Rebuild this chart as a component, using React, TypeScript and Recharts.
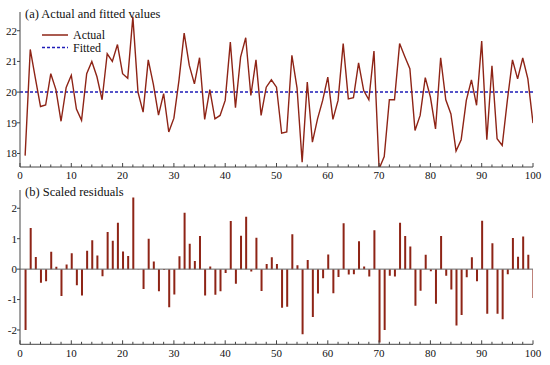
import React from 'react';
import { LineChart, Line, BarChart, Bar, XAxis, YAxis, ReferenceLine, Legend } from 'recharts';

// observation numbers 1..100
const OBS = Array.from({ length: 100 }, (_, i) => i + 1);

const ACTUAL = [
  17.93, 21.39, 20.45, 19.53, 19.58, 20.6, 20.08, 19.05, 20.15, 20.55,
  19.45, 19.08, 20.6, 21.0, 20.5, 19.75, 21.25, 21.0, 21.55, 20.6,
  20.45, 22.45, 20.0, 19.35, 21.05, 20.25, 19.25, 19.95, 18.7, 19.15,
  20.4, 21.92, 20.87, 20.27, 21.12, 19.11, 20.08, 19.13, 19.24, 19.73,
  21.63, 19.49, 21.14, 21.77, 19.89, 21.05, 19.24, 20.16, 20.4, 20.16,
  18.66, 18.7, 21.2, 20.14, 17.72, 20.33, 18.37, 19.13, 19.73, 20.49,
  19.11, 19.73, 21.58, 19.78, 19.82, 20.95, 20.05, 19.75, 21.34, 17.5,
  17.9, 19.75, 19.75, 21.58, 21.16, 20.76, 18.75, 19.24, 20.47, 19.84,
  18.8, 21.12, 19.75, 19.29, 18.08, 18.45, 19.73, 20.4, 19.57, 21.66,
  18.45, 20.86, 18.48, 18.26, 19.73, 21.05, 20.43, 21.11, 20.43, 18.99,
];

const RESIDUALS = [
  -2.0, 1.35, 0.4, -0.45, -0.4, 0.57, 0.08, -0.88, 0.15, 0.52,
  -0.53, -0.87, 0.6, 0.95, 0.45, -0.23, 1.22, 0.93, 1.52, 0.58,
  0.43, 2.35, -0.01, -0.65, 1.0, 0.25, -0.73, -0.03, -1.25, -0.83,
  0.42, 1.85, 0.83, 0.27, 1.09, -0.87, 0.09, -0.84, -0.73, -0.13,
  1.58, -0.48, 1.1, 1.72, -0.08, 1.03, -0.72, 0.17, 0.39, 0.17,
  -1.27, -1.24, 1.15, 0.13, -2.14, 0.3, -1.57, -0.8, -0.3, 0.48,
  -0.79, -0.26, 1.51, -0.18, -0.17, 0.92, 0.09, -0.24, 1.28, -2.41,
  -2.0, -0.22, -0.24, 1.52, 1.09, 0.74, -1.2, -0.71, 0.47, -0.07,
  -1.14, 1.09, -0.22, -0.67, -1.85, -1.51, -0.27, 0.39, -0.4, 1.59,
  -1.47, 0.85, -1.47, -1.65, -0.17, 1.02, 0.41, 1.07, 0.47, -0.95,
];

const FITTED = 20;

const X_TICKS = [
  0, 2, 4, 6, 8, 10, 12, 14, 16, 18, 20, 22, 24, 26, 28, 30, 32, 34, 36, 38, 40,
  42, 44, 46, 48, 50, 52, 54, 56, 58, 60, 62, 64, 66, 68, 70, 72, 74, 76, 78, 80,
  82, 84, 86, 88, 90, 92, 94, 96, 98, 100,
];
const TOP_Y_TICKS = [18, 19, 20, 21, 22];
const BOTTOM_Y_TICKS = [-2, -1, 0, 1, 2];

const ACTUAL_COLOR = '#8e2416';
const FITTED_COLOR = '#1f1cb8';
const AXIS_COLOR = '#444';
const FONT = '"Liberation Serif", "DejaVu Serif", serif';

const rows = OBS.map((x, i) => ({ x, actual: ACTUAL[i], resid: RESIDUALS[i] }));

// x ticks point inward, labels only on every 10
const XTick = (props: any) => {
  const { x, y, payload } = props;
  const major = payload.value % 10 === 0;
  return (
    <g>
      <line x1={x} x2={x} y1={y} y2={y - (major ? 4 : 2.5)} stroke={AXIS_COLOR} strokeWidth={1} />
      {major && (
        <text x={x} y={y + 12.3} textAnchor="middle" fontSize={11} fontFamily={FONT} fill="#111">
          {payload.value}
        </text>
      )}
    </g>
  );
};

const LegendBox = () => (
  <svg width={80} height={28} style={{ display: 'block' }}>
    <line x1={2} x2={28} y1={7} y2={7} stroke={ACTUAL_COLOR} strokeWidth={1.5} />
    <text x={33} y={11} fontSize={12} fontFamily={FONT} fill="#111">Actual</text>
    <line x1={2} x2={28} y1={19.5} y2={19.5} stroke={FITTED_COLOR} strokeWidth={1.5} strokeDasharray="3 2" />
    <text x={33} y={23.5} fontSize={12} fontFamily={FONT} fill="#111">Fitted</text>
  </svg>
);

const titleStyle: React.CSSProperties = {
  position: 'absolute',
  left: 25,
  fontFamily: FONT,
  fontSize: 12.5,
  lineHeight: '13px',
  color: '#111',
  whiteSpace: 'nowrap',
};

export default function App() {
  const yTick = { fontSize: 11, fill: '#111', fontFamily: FONT };
  return (
    <div style={{ position: 'absolute', left: 0, top: 0, width: 550, height: 365, background: '#fff' }}>
      <div style={{ position: 'absolute', left: 0, top: 0 }}>
        <LineChart width={550} height={180} data={rows} margin={{ top: 12, right: 17, left: 0, bottom: 0 }}>
          <XAxis
            type="number"
            dataKey="x"
            domain={[0, 100]}
            ticks={X_TICKS}
            interval={0}
            tick={<XTick />}
            tickLine={false}
            tickSize={0}
            tickMargin={0}
            height={13}
            stroke={AXIS_COLOR}
            allowDataOverflow
          />
          <YAxis
            type="number"
            domain={[17.56, 22.61]}
            ticks={TOP_Y_TICKS}
            interval={0}
            width={20}
            tickSize={3}
            tickMargin={0}
            tick={yTick}
            stroke={AXIS_COLOR}
            allowDataOverflow
          />
          <ReferenceLine y={FITTED} stroke={FITTED_COLOR} strokeWidth={1.5} strokeDasharray="3 2" />
          <Line
            dataKey="actual"
            name="Actual"
            stroke={ACTUAL_COLOR}
            strokeWidth={1.4}
            dot={false}
            isAnimationActive={false}
          />
          <Legend
            layout="vertical"
            align="center"
            verticalAlign="middle"
            content={() => <LegendBox />}
            wrapperStyle={{ left: 40, top: 27.5, width: 80, height: 28 }}
          />
        </LineChart>
      </div>
      <div style={{ ...titleStyle, top: 8 }}>(a) Actual and fitted values</div>

      <div style={{ position: 'absolute', left: 0, top: 180 }}>
        <BarChart width={550} height={185} data={rows} margin={{ top: 10, right: 17, left: 0, bottom: 0 }}>
          <XAxis
            type="number"
            dataKey="x"
            domain={[0, 100]}
            ticks={X_TICKS}
            interval={0}
            tick={<XTick />}
            tickLine={false}
            tickSize={0}
            tickMargin={0}
            height={20.7}
            stroke={AXIS_COLOR}
            allowDataOverflow
          />
          <YAxis
            type="number"
            domain={[-2.47, 2.6]}
            ticks={BOTTOM_Y_TICKS}
            interval={0}
            width={20}
            tickSize={3}
            tickMargin={0}
            tick={yTick}
            stroke={AXIS_COLOR}
            allowDataOverflow
          />
          <ReferenceLine y={0} stroke="#666" strokeWidth={1} />
          <Bar dataKey="resid" fill={ACTUAL_COLOR} barSize={2} isAnimationActive={false} />
        </BarChart>
      </div>
      <div style={{ ...titleStyle, top: 186 }}>(b) Scaled residuals</div>
    </div>
  );
}
